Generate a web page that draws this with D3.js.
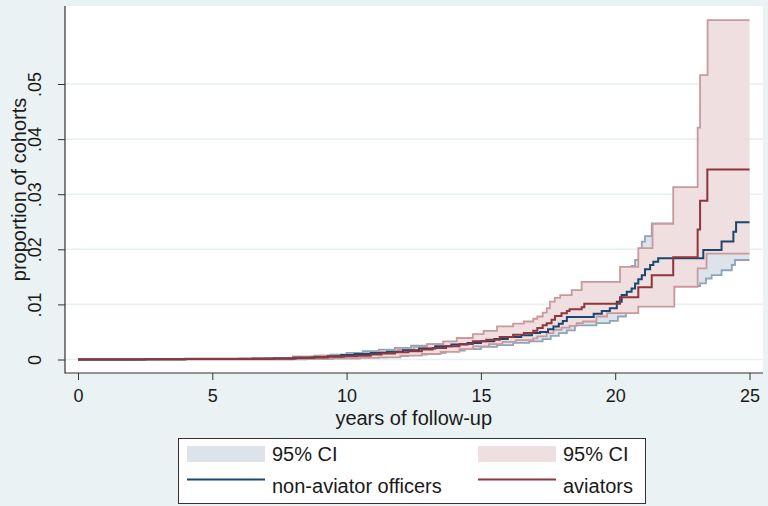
<!DOCTYPE html>
<html>
<head>
<meta charset="utf-8">
<script src="https://cdn.jsdelivr.net/npm/d3@7"></script>
<style>
  html, body { margin: 0; padding: 0; background: #eaf2f3; }
  svg { display: block; font-family: "Liberation Sans", Arial, sans-serif; }
</style>
</head>
<body>
<svg id="chart" width="768" height="506"></svg>
<script>
// ---------------- DATA ----------------
const xTicks = [0, 5, 10, 15, 20, 25];
const yTicks = [0, 0.01, 0.02, 0.03, 0.04, 0.05];
const yTickLabels = ["0", ".01", ".02", ".03", ".04", ".05"];
const xTitle = "years of follow-up";
const yTitle = "proportion of cohorts";
const legendLabels = ["95% CI", "95% CI", "non-aviator officers", "aviators"];
const maxTime = 25;

// non-aviator officers: [years, cumulative proportion]
const nonAviatorEst = [[0,0],[1,0.00002],[2.5,0.00004],[4,0.00007],[5.5,0.0001],[6.5,0.00015],[7.3,0.0002],[8.1,0.0003],[8.8,0.0004],[9.3,0.0006],[9.8,0.0008],[10.3,0.001],[10.9,0.0012],[11.5,0.0014],[12.1,0.0017],[12.7,0.002],[13.3,0.0024],[13.9,0.0027],[14.5,0.003],[15.0,0.0033],[15.5,0.0037],[16.0,0.0041],[16.5,0.0044],[16.9,0.0048],[17.2,0.005],[17.5,0.0055],[17.7,0.006],[17.9,0.0065],[18.05,0.007],[18.2,0.0077],[19.2,0.0083],[19.5,0.0088],[19.8,0.0093],[20.06,0.0105],[20.24,0.0117],[20.43,0.0123],[20.61,0.0129],[20.74,0.0138],[20.86,0.01455],[20.99,0.0153],[21.11,0.0164],[21.3,0.01715],[21.42,0.01775],[21.6,0.01837],[23.28,0.01987],[23.96,0.0214],[24.4,0.0232],[24.5,0.0249]];
const nonAviatorLower = [[0,0],[4,0.00002],[7,0.00005],[8.5,0.0001],[9.5,0.0002],[10.5,0.0004],[11.5,0.0006],[12.3,0.0009],[13,0.0012],[13.7,0.0016],[14.4,0.0019],[15,0.0023],[15.6,0.0026],[16.2,0.003],[16.8,0.0033],[17.3,0.0037],[17.6,0.0043],[17.9,0.0048],[18.2,0.0053],[18.5,0.0062],[19.3,0.0066],[19.8,0.007],[20.1,0.0078],[20.4,0.0087],[20.7,0.0097],[21.0,0.0105],[21.3,0.0112],[21.6,0.0122],[22.2,0.0133],[23.16,0.0138],[23.38,0.0147],[23.59,0.0153],[23.96,0.0162],[24.34,0.01715],[24.46,0.01806]];
const nonAviatorUpper = [[0,0],[0.5,0.00005],[2,0.0001],[4,0.00015],[6,0.0002],[7,0.0003],[8,0.0005],[8.8,0.0007],[9.4,0.0009],[10,0.0012],[10.6,0.0015],[11.2,0.0018],[11.8,0.0021],[12.4,0.0025],[13,0.0028],[13.6,0.0032],[14.2,0.0036],[14.8,0.004],[15.4,0.0044],[16,0.0049],[16.5,0.0053],[17,0.0059],[17.5,0.0067],[17.9,0.0077],[18.2,0.0087],[19.2,0.0095],[19.8,0.0105],[20.06,0.012],[20.24,0.0138],[20.43,0.0155],[20.61,0.017],[20.74,0.01806],[20.99,0.0214],[21.11,0.0224],[21.36,0.0247],[22.2,0.026],[23.3,0.029],[24.4,0.031],[24.5,0.034]];

// aviators
const aviatorEst = [[0,0],[1,0.00002],[2.5,0.00005],[4,0.00008],[5.5,0.0001],[6.5,0.00015],[7.3,0.0002],[8,0.0003],[8.7,0.0004],[9.3,0.0005],[9.9,0.0006],[10.4,0.0007],[10.9,0.0009],[11.3,0.0011],[11.8,0.0013],[12.3,0.0015],[12.8,0.0018],[13.2,0.0021],[13.7,0.0024],[14.2,0.0028],[14.7,0.0033],[15.2,0.0036],[15.7,0.0041],[16.2,0.0045],[16.6,0.0048],[16.95,0.0052],[17.1,0.0057],[17.3,0.0062],[17.45,0.0066],[17.63,0.0072],[17.76,0.0079],[18.0,0.0084],[18.2,0.0088],[18.3,0.0091],[18.75,0.0095],[18.85,0.0101],[20.18,0.0113],[20.86,0.0131],[21.36,0.0153],[22.16,0.01855],[23.07,0.0236],[23.16,0.0288],[23.43,0.0345]];
const aviatorLower = [[0,0],[3,0.00001],[6,0.00003],[8,0.0001],[9.5,0.0002],[10.5,0.0003],[11.2,0.0004],[12,0.0007],[12.8,0.001],[13.5,0.0014],[14.2,0.0019],[14.7,0.0024],[15.3,0.0028],[15.8,0.0032],[16.3,0.0035],[16.95,0.00385],[17.1,0.0042],[17.45,0.0048],[17.7,0.0054],[18.0,0.0058],[18.3,0.0061],[18.56,0.0066],[18.8,0.0069],[19.3,0.0078],[19.7,0.0084],[20.86,0.0096],[22.2,0.0132],[23.07,0.01655],[23.4,0.0192]];
const aviatorUpper = [[0,0],[0.5,0.00005],[2,0.0001],[4,0.00015],[6,0.0002],[7,0.0003],[8,0.0005],[9,0.0007],[9.8,0.0009],[10.5,0.0011],[11.2,0.0014],[11.9,0.0018],[12.5,0.0023],[13,0.0028],[13.6,0.0033],[14.1,0.0039],[14.7,0.0046],[15.1,0.0052],[15.6,0.006],[16.2,0.0065],[16.6,0.0069],[16.95,0.0074],[17.1,0.0078],[17.3,0.0085],[17.45,0.0093],[17.57,0.0105],[17.75,0.0112],[17.95,0.0117],[18.38,0.0126],[18.75,0.0141],[20.18,0.0168],[20.86,0.0202],[21.39,0.0246],[22.16,0.0313],[23.07,0.0421],[23.16,0.0516],[23.44,0.0616]];

// ---------------- LAYOUT ----------------
const W = 768, H = 506;
const plot = { left: 65, top: 6, right: 763, bottom: 373 };
const colors = {
  bg: "#eaf2f3", grid: "#e6eff1", axis: "#333333", text: "#1a1a1a",
  navy: "#1a476f", maroon: "#90353b",
  navyFill: "#dde3ea", maroonFill: "#efdfe0",
  navyEdge: "#8fa4b8", maroonEdge: "#c9999d"
};

const svg = d3.select("#chart");
svg.append("rect").attr("width", W).attr("height", H).attr("fill", colors.bg);
svg.append("rect")
  .attr("x", plot.left).attr("y", plot.top)
  .attr("width", plot.right - plot.left).attr("height", plot.bottom - plot.top)
  .attr("fill", "#ffffff");

const x = d3.scaleLinear().domain([0, 25]).range([78, 749.5]);
const y = d3.scaleLinear().domain([0, 0.05]).range([359.5, 84]);

// gridlines
svg.append("g").selectAll("line").data(yTicks).join("line")
  .attr("x1", plot.left).attr("x2", plot.right)
  .attr("y1", d => y(d)).attr("y2", d => y(d))
  .attr("stroke", colors.grid).attr("stroke-width", 1.6);

// helpers
function extend(s) { return s.concat([[maxTime, s[s.length - 1][1]]]); }
function lookup(s, t) {
  let v = s[0][1];
  for (const p of s) { if (p[0] <= t) v = p[1]; else break; }
  return v;
}
function band(lower, upper) {
  const ts = Array.from(new Set(lower.map(p => p[0]).concat(upper.map(p => p[0]), [maxTime]))).sort((a, b) => a - b);
  return ts.map(t => ({ t, lo: lookup(lower, t), hi: lookup(upper, t) }));
}
const area = d3.area().curve(d3.curveStepAfter)
  .x(d => x(d.t)).y0(d => y(d.lo)).y1(d => y(d.hi));
const line = d3.line().curve(d3.curveStepAfter)
  .x(d => x(d[0])).y(d => y(d[1]));

const g = svg.append("g");
// blue CI
g.append("path").attr("d", area(band(nonAviatorLower, nonAviatorUpper)))
  .attr("fill", colors.navyFill);
[nonAviatorLower, nonAviatorUpper].forEach(s =>
  g.append("path").attr("d", line(extend(s))).attr("fill", "none")
    .attr("stroke", colors.navyEdge).attr("stroke-width", 1.8));
// red CI
g.append("path").attr("d", area(band(aviatorLower, aviatorUpper)))
  .attr("fill", colors.maroonFill);
[aviatorLower, aviatorUpper].forEach(s =>
  g.append("path").attr("d", line(extend(s))).attr("fill", "none")
    .attr("stroke", colors.maroonEdge).attr("stroke-width", 1.8));
// estimates
g.append("path").attr("d", line(extend(nonAviatorEst))).attr("fill", "none")
  .attr("stroke", colors.navy).attr("stroke-width", 2);
g.append("path").attr("d", line(extend(aviatorEst))).attr("fill", "none")
  .attr("stroke", colors.maroon).attr("stroke-width", 2);

// axes
const yAxis = d3.axisLeft(y).tickValues(yTicks).tickFormat((d, i) => yTickLabels[i])
  .tickSize(7).tickSizeOuter(0);
const yAx = svg.append("g").attr("transform", `translate(${plot.left},0)`).call(yAxis);
yAx.select(".domain").remove();
yAx.selectAll(".tick line").attr("stroke", colors.axis);
yAx.selectAll(".tick text")
  .attr("font-size", 18).attr("fill", colors.text)
  .attr("text-anchor", "middle").attr("dy", null)
  .attr("x", null)
  .attr("transform", `translate(${41 - plot.left},0) rotate(-90)`)
  .attr("y", 0);

const xAxis = d3.axisBottom(x).tickValues(xTicks).tickFormat(d3.format("d"))
  .tickSize(7).tickSizeOuter(0);
const xAx = svg.append("g").attr("transform", `translate(0,${plot.bottom})`).call(xAxis);
xAx.select(".domain").remove();
xAx.selectAll(".tick line").attr("stroke", colors.axis);
xAx.selectAll(".tick text").attr("font-size", 18).attr("fill", colors.text)
  .attr("dy", null).attr("y", 29);

svg.append("line").attr("x1", plot.left).attr("x2", plot.left)
  .attr("y1", plot.top).attr("y2", plot.bottom + 0.5)
  .attr("stroke", colors.axis).attr("stroke-width", 1.2);
svg.append("line").attr("x1", plot.left).attr("x2", plot.right)
  .attr("y1", plot.bottom).attr("y2", plot.bottom)
  .attr("stroke", colors.axis).attr("stroke-width", 1.2);

// titles
svg.append("text").text(xTitle)
  .attr("x", (x(0) + x(25)) / 2).attr("y", 425)
  .attr("text-anchor", "middle").attr("font-size", 20).attr("fill", colors.text);
svg.append("text").text(yTitle)
  .attr("transform", `translate(26,${(plot.top + plot.bottom) / 2}) rotate(-90)`)
  .attr("text-anchor", "middle").attr("font-size", 20).attr("fill", colors.text);

// legend
const lg = svg.append("g");
lg.append("rect").attr("x", 178.5).attr("y", 438.5).attr("width", 467).attr("height", 65)
  .attr("fill", "#ffffff").attr("stroke", "#333").attr("stroke-width", 1);
const items = [
  { kind: "box", fill: colors.navyFill, x: 187, label: legendLabels[0] },
  { kind: "box", fill: colors.maroonFill, x: 478, label: legendLabels[1] },
  { kind: "line", stroke: colors.navy, x: 187, label: legendLabels[2] },
  { kind: "line", stroke: colors.maroon, x: 478, label: legendLabels[3] }
];
items.forEach((it, i) => {
  const row = i < 2 ? 0 : 1;
  const cy = row === 0 ? 454 : 479.5;
  if (it.kind === "box") {
    lg.append("rect").attr("x", it.x).attr("y", cy - 8).attr("width", 78).attr("height", 16)
      .attr("fill", it.fill);
  } else {
    lg.append("line").attr("x1", it.x).attr("x2", it.x + 78).attr("y1", cy).attr("y2", cy)
      .attr("stroke", it.stroke).attr("stroke-width", 2);
  }
  lg.append("text").text(it.label).attr("x", it.x + 85).attr("y", row === 0 ? 461 : 493)
    .attr("font-size", 20).attr("fill", colors.text);
});
</script>
</body>
</html>
